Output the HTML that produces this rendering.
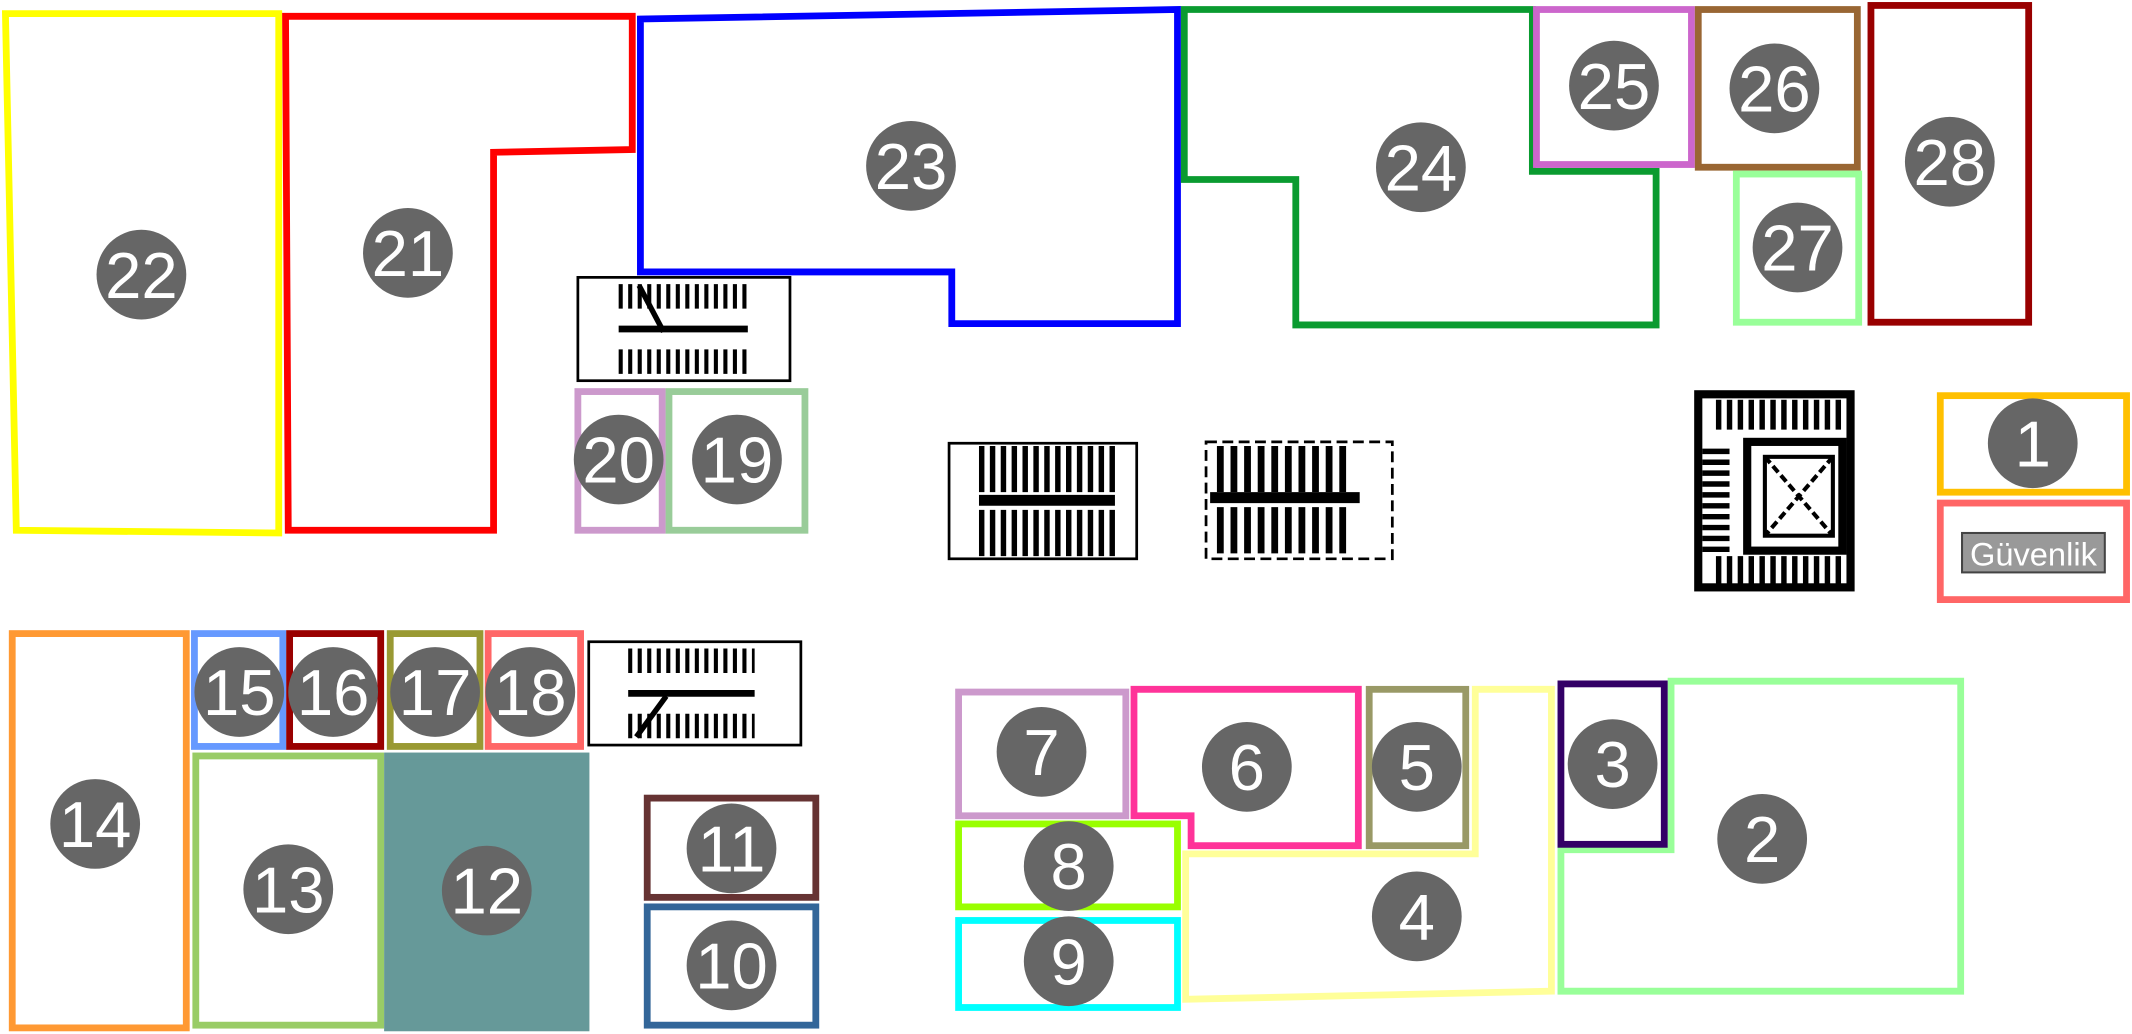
<!DOCTYPE html>
<html><head><meta charset="utf-8"><style>
html,body{margin:0;padding:0;background:#fff;}
svg{display:block;}
text{font-family:"Liberation Sans",sans-serif;}
</style></head><body>
<svg width="2132" height="1034" viewBox="0 0 1568 760.5" preserveAspectRatio="none" xmlns="http://www.w3.org/2000/svg">
<g fill="none" stroke-width="5" stroke-linejoin="miter">
<polygon points="4,10 205,10 205,392 12,390" stroke="#ffff00"/>
<polygon points="210,12 465,12 465,110 363,112 363,390 212,390" stroke="#ff0000"/>
<polygon points="471,14 866,7 866,238 700,238 700,200 471,200" stroke="#0000ff"/>
<polygon points="871,7 1127,7 1127,126 1218,126 1218,239 953,239 953,132 871,132" stroke="#0a9b30"/>
<rect x="1130" y="7" width="114" height="114" stroke="#cc66cc"/>
<rect x="1249" y="7" width="117" height="116" stroke="#996633"/>
<rect x="1277" y="128" width="90" height="109" stroke="#99ff99"/>
<rect x="1376" y="4" width="116" height="233" stroke="#990000"/>
<rect x="1427" y="291" width="137" height="71" stroke="#ffc000"/>
<rect x="1427" y="370" width="137" height="71" stroke="#ff6666"/>
<rect x="492" y="288" width="100" height="102" stroke="#99cc99"/>
<rect x="425" y="288" width="62" height="102" stroke="#cc99cc"/>
<rect x="9" y="466" width="128" height="290" stroke="#ff9933"/>
<rect x="143" y="466" width="65" height="83" stroke="#6699ff"/>
<rect x="213" y="466" width="67" height="83" stroke="#990000"/>
<rect x="287" y="466" width="66" height="83" stroke="#999933"/>
<rect x="359" y="466" width="68" height="83" stroke="#ff6666"/>
<rect x="144" y="556" width="136" height="198" stroke="#99cc66"/>
<rect x="285" y="556" width="146" height="200" fill="#669999" stroke="#669999"/>
<rect x="476" y="587" width="124" height="73" stroke="#663333"/>
<rect x="476" y="667" width="124" height="87" stroke="#336699"/>
<polygon points="1085,507 1141,507 1141,729 872,735 872,628 1085,628" stroke="#ffff99"/>
<rect x="705" y="509" width="123" height="91" stroke="#cc99cc"/>
<polygon points="834,507 999,507 999,622 876,622 876,600 834,600" stroke="#ff3399"/>
<rect x="1007" y="507" width="71" height="115" stroke="#999966"/>
<polygon points="1229,501 1442,501 1442,729 1148,729 1148,625 1229,625" stroke="#99ff99"/>
<rect x="1148" y="503" width="76" height="118" stroke="#330066"/>
<rect x="705" y="606" width="161" height="61" stroke="#99ff00"/>
<rect x="705" y="677" width="161" height="64" stroke="#00ffff"/>
</g>
<g stroke="#000" fill="none">
<g stroke-width="2"><rect x="425" y="204" width="156" height="76"/><line x1="455" y1="242" x2="550" y2="242" stroke-width="5"/>
<path d="M455,218 H550 M455,266 H550" stroke-dasharray="3 4" stroke-width="18"/><line x1="470" y1="210" x2="488" y2="244" stroke-width="4"/></g>
<g stroke-width="2"><rect x="433" y="472" width="156" height="76"/><line x1="462" y1="510" x2="555" y2="510" stroke-width="5"/>
<path d="M462,486 H555 M462,534 H555" stroke-dasharray="3 4" stroke-width="18"/><line x1="468" y1="542" x2="490" y2="512" stroke-width="4"/></g>
<g stroke-width="2"><rect x="698" y="326" width="138" height="85"/><line x1="720" y1="368" x2="820" y2="368" stroke-width="8"/>
<path d="M720,345 H820 M720,392 H820" stroke-dasharray="4 4" stroke-width="34"/></g>
<g stroke-width="2"><rect x="887" y="325" width="137" height="86" stroke-dasharray="8 4"/><line x1="890" y1="366" x2="1000" y2="366" stroke-width="8"/>
<path d="M895,345 H990 M895,390 H990" stroke-dasharray="5 5" stroke-width="34"/></g>
<g><rect x="1249" y="290" width="112" height="142" stroke-width="6"/>
<path d="M1262,305 H1358 M1262,420 H1358" stroke-dasharray="4 4" stroke-width="22"/>
<path d="M1262,330 V410" stroke-dasharray="4 4" stroke-width="20"/>
<rect x="1285" y="325" width="70" height="80" stroke-width="6"/>
<rect x="1298" y="336" width="50" height="58" stroke-width="3"/>
<path d="M1298,336 L1348,394 M1348,336 L1298,394" stroke-width="3" stroke-dasharray="6 3"/></g>
</g>
<rect x="1443" y="392" width="105" height="29" fill="#999" stroke="#444" stroke-width="1.5"/>
<text x="1495.5" y="416" font-size="24" fill="#fff" text-anchor="middle">Güvenlik</text>
<g font-size="48" fill="#fff" text-anchor="middle">
<circle cx="104" cy="202" r="33" fill="#666"/><text x="104" y="219">22</text>
<circle cx="300" cy="186" r="33" fill="#666"/><text x="300" y="203">21</text>
<circle cx="670" cy="122" r="33" fill="#666"/><text x="670" y="139">23</text>
<circle cx="1045" cy="123" r="33" fill="#666"/><text x="1045" y="140">24</text>
<circle cx="1187" cy="63" r="33" fill="#666"/><text x="1187" y="80">25</text>
<circle cx="1305" cy="65" r="33" fill="#666"/><text x="1305" y="82">26</text>
<circle cx="1322" cy="182" r="33" fill="#666"/><text x="1322" y="199">27</text>
<circle cx="1434" cy="119" r="33" fill="#666"/><text x="1434" y="136">28</text>
<circle cx="1495" cy="326" r="33" fill="#666"/><text x="1495" y="343">1</text>
<circle cx="455" cy="338" r="33" fill="#666"/><text x="455" y="355">20</text>
<circle cx="542" cy="338" r="33" fill="#666"/><text x="542" y="355">19</text>
<circle cx="70" cy="606" r="33" fill="#666"/><text x="70" y="623">14</text>
<circle cx="176" cy="509" r="33" fill="#666"/><text x="176" y="526">15</text>
<circle cx="245" cy="509" r="33" fill="#666"/><text x="245" y="526">16</text>
<circle cx="320" cy="509" r="33" fill="#666"/><text x="320" y="526">17</text>
<circle cx="390" cy="509" r="33" fill="#666"/><text x="390" y="526">18</text>
<circle cx="212" cy="654" r="33" fill="#666"/><text x="212" y="671">13</text>
<circle cx="358" cy="655" r="33" fill="#666"/><text x="358" y="672">12</text>
<circle cx="538" cy="624" r="33" fill="#666"/><text x="538" y="641">11</text>
<circle cx="538" cy="710" r="33" fill="#666"/><text x="538" y="727">10</text>
<circle cx="766" cy="553" r="33" fill="#666"/><text x="766" y="570">7</text>
<circle cx="917" cy="564" r="33" fill="#666"/><text x="917" y="581">6</text>
<circle cx="1042" cy="564" r="33" fill="#666"/><text x="1042" y="581">5</text>
<circle cx="1186" cy="562" r="33" fill="#666"/><text x="1186" y="579">3</text>
<circle cx="1296" cy="617" r="33" fill="#666"/><text x="1296" y="634">2</text>
<circle cx="1042" cy="674" r="33" fill="#666"/><text x="1042" y="691">4</text>
<circle cx="786" cy="637" r="33" fill="#666"/><text x="786" y="654">8</text>
<circle cx="786" cy="707" r="33" fill="#666"/><text x="786" y="724">9</text>
</g>
</svg>
</body></html>
